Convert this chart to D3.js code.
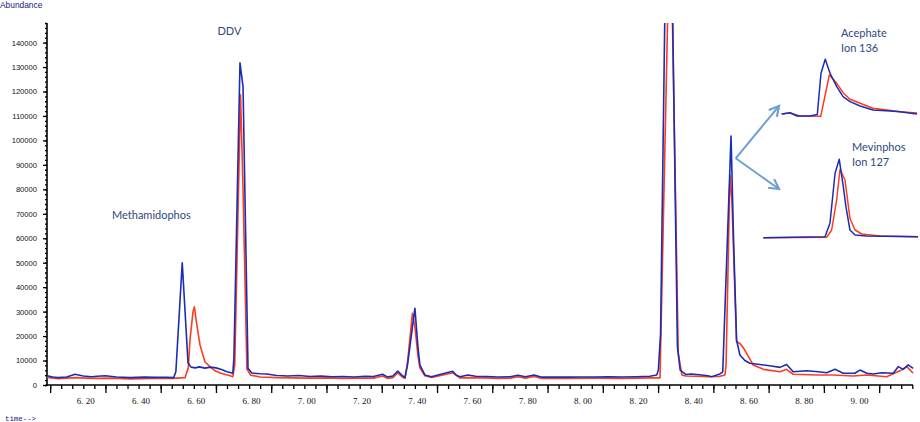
<!DOCTYPE html>
<html><head><meta charset="utf-8">
<script src="https://cdn.jsdelivr.net/npm/d3@7"></script>
<style>body{margin:0;background:#fff}svg{display:block}</style></head>
<body><svg id="c" width="920" height="422"></svg>
<script>
// ---- main chromatogram data (time in min, abundance) ----
const blueTimes=[6.069,6.090,6.108,6.140,6.170,6.200,6.230,6.250,6.280,6.320,6.370,6.420,6.460,6.500,6.527,6.535,6.558,6.579,6.590,6.605,6.620,6.640,6.660,6.680,6.700,6.720,6.741,6.745,6.767,6.778,6.796,6.810,6.840,6.864,6.900,6.940,6.980,7.020,7.060,7.100,7.140,7.180,7.220,7.250,7.283,7.300,7.320,7.338,7.355,7.364,7.373,7.400,7.411,7.418,7.436,7.460,7.490,7.515,7.537,7.550,7.563,7.592,7.620,7.660,7.700,7.745,7.773,7.800,7.831,7.860,7.900,7.950,8.000,8.050,8.100,8.150,8.200,8.250,8.275,8.281,8.289,8.318,8.350,8.360,8.380,8.400,8.430,8.460,8.474,8.490,8.504,8.514,8.544,8.553,8.564,8.576,8.594,8.612,8.648,8.690,8.721,8.745,8.769,8.818,8.860,8.890,8.920,8.950,8.992,9.011,9.035,9.059,9.089,9.131,9.149,9.167,9.185,9.203];
const blueAbund=[3800,3300,3000,3300,4400,3700,3400,3600,3800,3300,3000,3200,3100,3100,3000,5500,50000,9000,7300,7000,7400,6900,7300,7000,6300,5400,4800,11000,131700,122000,6800,4900,4600,4500,3900,3700,3900,3500,3700,3400,3500,3300,3600,3500,4400,3300,3700,5700,3800,3000,8000,31400,15600,8200,4100,3400,4300,5000,5600,4000,3400,4100,3600,3500,3300,3400,4000,3400,4100,3200,3300,3200,3300,3300,3400,3300,3400,3600,4100,6000,21000,266000,15700,6100,4300,4500,4200,3800,3400,4000,4500,5400,101800,60000,18400,12300,10000,8900,8400,7800,7200,8400,5400,5800,5400,5000,6400,4800,4800,6100,4800,4500,5000,4800,7500,6400,8200,6800];
const redTimes=[6.069,6.110,6.140,6.170,6.210,6.250,6.300,6.370,6.450,6.520,6.568,6.580,6.586,6.597,6.602,6.609,6.622,6.640,6.658,6.677,6.695,6.731,6.741,6.748,6.769,6.778,6.792,6.806,6.840,6.900,6.960,7.020,7.080,7.140,7.200,7.250,7.283,7.300,7.320,7.338,7.355,7.364,7.373,7.391,7.400,7.411,7.418,7.436,7.460,7.490,7.537,7.563,7.600,7.650,7.700,7.745,7.773,7.800,7.831,7.860,7.950,8.050,8.150,8.250,8.287,8.324,8.353,8.366,8.380,8.420,8.460,8.500,8.522,8.526,8.540,8.547,8.564,8.576,8.590,8.624,8.661,8.721,8.745,8.769,8.854,8.914,8.986,9.035,9.107,9.155,9.180,9.203];
const redAbund=[3100,2600,2800,3000,2800,2700,2800,2500,2700,2700,3000,7000,18400,30000,32000,26000,16500,9500,7500,5800,4900,3800,3400,8000,118600,80000,6500,4000,3300,3000,2900,2800,2900,2700,2800,2800,3700,2700,3000,4900,3200,2700,9000,29300,24000,12000,7000,3800,3100,3800,5000,2900,3000,2900,2700,2800,3400,2800,3500,2700,2700,2800,2700,2900,2900,200000,13000,4100,3700,3600,3400,3500,4100,8000,85800,75600,17700,17000,15000,8200,6400,5400,6400,4400,4100,4100,3700,4100,3400,5800,7500,4800];

// ---- inset traces (relative time 0-100, relative intensity 0-100) ----
const aceBlue=[[0.5,6.7],[6.6,8.8],[11.7,3.3],[21.2,3.3],[26.5,5.8],[29.2,74.5],[32.3,97.8],[35.8,74.5],[40.7,52.2],[45.3,35.5],[50.4,27.2],[57.7,20],[67.2,13.3],[79.6,11.7],[86.9,10.5],[99.3,6.7]];
const aceRed=[[0.5,6.7],[6.6,8.3],[13.9,3.3],[29,2.8],[35.3,71.7],[40.7,57.8],[45.3,42.2],[50.4,31.2],[57.7,24.5],[67.2,16.2],[77.4,13.3],[86.9,10.5],[99.3,8.3]];
const mevBlue=[[0.2,0.4],[40,1.6],[43.2,18.4],[46.5,80.9],[49.2,98.4],[51.8,64.1],[53.5,39.1],[56.1,10],[59.4,3.75],[66.9,2.5],[100,1.6]];
const mevRed=[[0.2,0.4],[41.1,0.9],[44.3,10],[47.5,47.5],[49.7,85.9],[52.9,72.5],[56.1,24.6],[59.4,10],[63.7,5],[75.5,2.5],[100,1.6]];

// ---- axis ticks / labels ----
const yLabelTicks=d3.range(0,140001,10000);
const yMinorTicks=d3.range(0,148001,2000);
const xMinorTicks=d3.range(0,79).map(i=>+(6.08+i*0.04).toFixed(2));
const xMajorTicks=d3.range(0,16).map(i=>+(6.08+i*0.2).toFixed(2));
const xLabelTicks=d3.range(0,15).map(i=>+(6.20+i*0.2).toFixed(2));
const peakLabels=[
 {text:"DDV",x:217.5,y:34.5},
 {text:"Methamidophos",x:112,y:219},
 {text:"Acephate",x:841,y:37},
 {text:"Ion 136",x:841,y:51.5},
 {text:"Mevinphos",x:852,y:151},
 {text:"Ion 127",x:852,y:166}
];

const BLUE="#1a2db5", RED="#ff3b1f", TXT="#2c4a7c", ARROW="#6e9fd4";
const svg=d3.select("#c");
const x=d3.scaleLinear().domain([6.0686,9.2025]).range([47,913]);
const y=d3.scaleLinear().domain([0,148000]).range([385,23]);

svg.append("defs").append("clipPath").attr("id","clip")
  .append("rect").attr("x",47).attr("y",23).attr("width",870).attr("height",363);

// axes
const gy=svg.append("g").attr("transform","translate(47,0)");
gy.call(d3.axisLeft(y).tickValues(yMinorTicks).tickSize(2).tickFormat("").tickSizeOuter(0));
gy.call(g=>g.select(".domain").remove());
const gy2=svg.append("g").attr("transform","translate(47,0)")
  .call(d3.axisLeft(y).tickValues(yLabelTicks).tickSize(4).tickPadding(6).tickSizeOuter(0).tickFormat(d3.format("d")));
gy2.select(".domain").remove();
gy2.selectAll("text").attr("font-family","Liberation Sans, Arial, sans-serif").attr("font-size","7.6px").attr("fill","#111");
svg.append("line").attr("x1",47).attr("x2",47).attr("y1",y(148000)).attr("y2",386).attr("stroke","#000").attr("stroke-width",1.6);

const gx=svg.append("g").attr("transform","translate(0,385)")
  .call(d3.axisBottom(x).tickValues(xMinorTicks).tickSize(4).tickFormat("").tickSizeOuter(0));
gx.select(".domain").remove();
const gx2=svg.append("g").attr("transform","translate(0,385)")
  .call(d3.axisBottom(x).tickValues(xMajorTicks).tickSize(8).tickFormat("").tickSizeOuter(0));
gx2.select(".domain").remove();
svg.selectAll(".tick line").attr("stroke","#000").attr("stroke-width",1.3);
svg.append("line").attr("x1",46).attr("x2",913).attr("y1",385).attr("y2",385).attr("stroke","#000").attr("stroke-width",1.6);

svg.append("g").selectAll("text").data(xLabelTicks).join("text")
  .attr("x",d=>x(d)+2.4).attr("y",404).attr("text-anchor","middle")
  .attr("font-family","Liberation Serif, serif").attr("font-size","9px").attr("fill","#111")
  .text(d=>d.toFixed(2).replace(".",". "));

svg.append("text").attr("x",0).attr("y",8).attr("font-family","Liberation Sans, Arial, sans-serif")
  .attr("font-size","8.4px").attr("fill","#14198a").text("Abundance");
svg.append("text").attr("x",5).attr("y",421).attr("font-family","Liberation Mono, monospace")
  .attr("font-size","7.4px").attr("fill","#14198a").text("time-->");

// traces
const line=d3.line().x(d=>x(d[0])).y(d=>y(d[1]));
const plot=svg.append("g").attr("clip-path","url(#clip)");
const redData=redTimes.map((t,i)=>[t,redAbund[i]]);
const blueData=blueTimes.map((t,i)=>[t,blueAbund[i]]);
plot.append("path").datum(redData).attr("d",line).attr("fill","none").attr("stroke",RED).attr("stroke-width",1.6).attr("stroke-linejoin","round");
plot.append("path").datum(blueData).attr("d",line).attr("fill","none").attr("stroke",BLUE).attr("stroke-width",1.6).attr("stroke-linejoin","round");

// insets
const ax=d3.scaleLinear().domain([0,100]).range([781,918]);
const ay=d3.scaleLinear().domain([0,100]).range([118,58]);
const mx=d3.scaleLinear().domain([0,100]).range([763,918]);
const my=d3.scaleLinear().domain([0,100]).range([238,158]);
const aLine=d3.line().x(d=>ax(d[0])).y(d=>ay(d[1]));
const mLine=d3.line().x(d=>mx(d[0])).y(d=>my(d[1]));
[[aceRed,aLine,RED],[aceBlue,aLine,BLUE],[mevRed,mLine,RED],[mevBlue,mLine,BLUE]].forEach(([d,l,c])=>{
  svg.append("path").datum(d).attr("d",l).attr("fill","none").attr("stroke",c).attr("stroke-width",1.5).attr("stroke-linejoin","round");
});

// arrows
const origin=[735.7,158.3];
const tips=[[779,106],[779,189]];
tips.forEach(tp=>{
  svg.append("line").attr("x1",origin[0]).attr("y1",origin[1]).attr("x2",tp[0]).attr("y2",tp[1])
    .attr("stroke",ARROW).attr("stroke-width",2);
  const ang=Math.atan2(tp[1]-origin[1],tp[0]-origin[0]);
  const L=11, a=0.5;
  const p1=[tp[0]-L*Math.cos(ang-a),tp[1]-L*Math.sin(ang-a)];
  const p2=[tp[0]-L*Math.cos(ang+a),tp[1]-L*Math.sin(ang+a)];
  svg.append("path").attr("d",`M${p1}L${tp}L${p2}`).attr("fill","none").attr("stroke",ARROW)
    .attr("stroke-width",2.2).attr("stroke-linejoin","miter");
});

// peak labels
svg.append("g").selectAll("text").data(peakLabels).join("text")
  .attr("x",d=>d.x).attr("y",d=>d.y).attr("font-family","Lato, 'Open Sans', sans-serif")
  .attr("font-size","11px").attr("fill",TXT).text(d=>d.text);
</script></body></html>
